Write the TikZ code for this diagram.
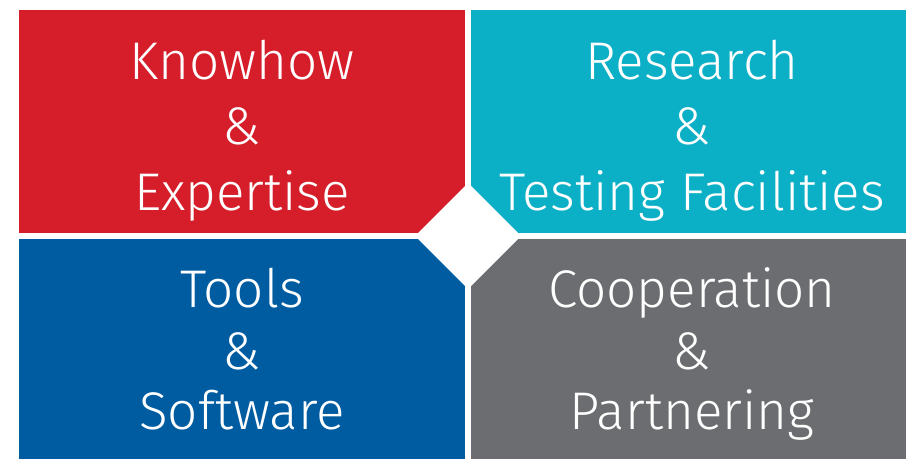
\documentclass[tikz,border=0pt]{standalone}
\usepackage{fontspec}
\setmainfont{Fira Sans}[UprightFont=* Light]
\definecolor{qred}{RGB}{213,30,42}
\definecolor{qteal}{RGB}{12,176,198}
\definecolor{qblue}{RGB}{0,92,161}
\definecolor{qgray}{RGB}{108,109,112}
\tikzset{
  quad/.style={fill=#1, draw=none},
  lbl/.style={anchor=base, text=white, inner sep=0pt, font=\fontsize{53}{53}\selectfont}
}
\begin{document}
\begin{tikzpicture}[x=1pt,y=1pt]
\useasboundingbox (0,0) rectangle (906,459);
\fill[white] (0,0) rectangle (906,459);
\fill[quad=qred]  (19,226) rectangle (465,449);
\fill[quad=qteal] (471,226) rectangle (906,449);
\fill[quad=qblue] (19,0) rectangle (465,220);
\fill[quad=qgray] (471,0) rectangle (906,220);
\fill[white] (468,276) -- (521,223) -- (468,170) -- (415,223) -- cycle;
% top left
\node[lbl] (k1) at (242,379) {Knowhow};
\node[lbl] (k2) at (242,315) {\&};
\node[lbl] (k3) at (242,249) {Expertise};
% top right
\node[lbl] (r1) at (692,379) {Research};
\node[lbl] (r2) at (692,315) {\&};
\node[lbl] (r3) at (692,249) {Testing Facilities};
% bottom left
\node[lbl] (t1) at (242,152) {Tools};
\node[lbl] (t2) at (242,90) {\&};
\node[lbl] (t3) at (242,30) {Software};
% bottom right
\node[lbl] (c1) at (692,152) {Cooperation};
\node[lbl] (c2) at (692,90) {\&};
\node[lbl] (c3) at (692,30) {Partnering};
\end{tikzpicture}
\end{document}
